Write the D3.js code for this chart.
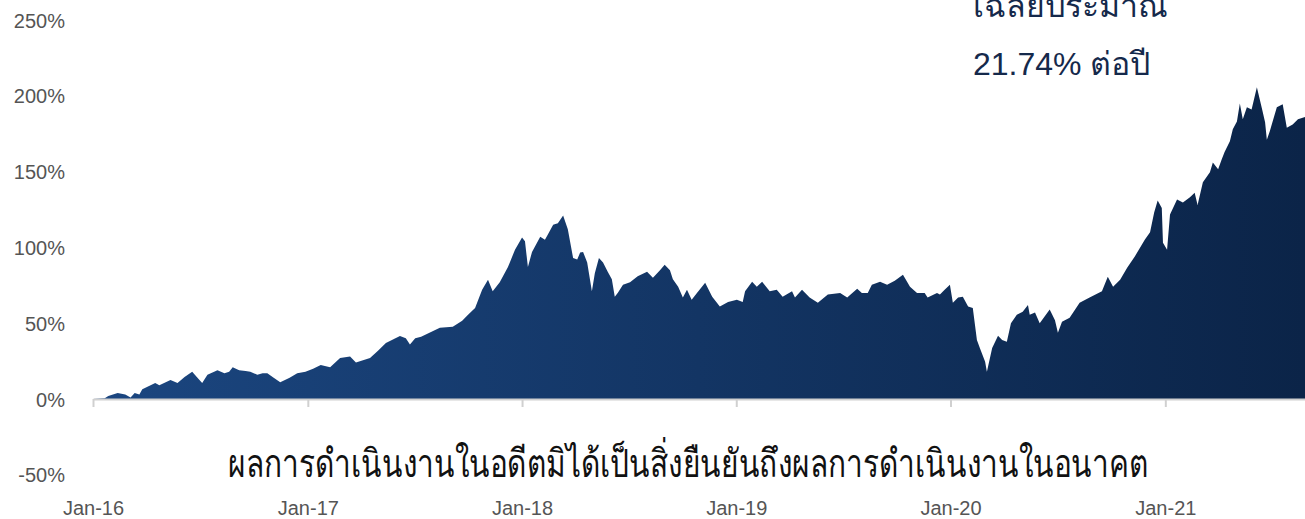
<!DOCTYPE html>
<head>
  <meta charset="utf-8">
  <style>
    body { margin: 0; background: #fff; }
    .ylab text, .xlab text {
      font-family: "Liberation Sans", Arial, sans-serif;
      font-size: 20px;
      fill: #555;
    }
    .note {
      font-family: "Liberation Sans", Arial, sans-serif;
      font-size: 32px;
      fill: #15294b;
    }
    .disclaimer {
      font-family: "Liberation Sans", "Noto Sans", sans-serif;
      font-size: 39px;
      fill: #111;
    }
  </style>
  <script src="https://d3js.org/d3.v7.min.js"></script>
</head>

<body>
  <div id="content"></div>
  <script>
  // cumulative return (%)
  var dates = ["2016-01-01","2016-01-21","2016-01-27","2016-02-12","2016-02-25","2016-03-05","2016-03-12","2016-03-20","2016-03-25",
    "2016-04-16","2016-04-23","2016-05-12","2016-05-24","2016-06-05","2016-06-18","2016-06-27","2016-07-05","2016-07-14","2016-07-31",
    "2016-08-12","2016-08-20","2016-08-26","2016-09-06","2016-09-17","2016-09-25","2016-10-07","2016-10-16","2016-10-24","2016-11-02",
    "2016-11-15","2016-12-01","2016-12-14","2016-12-28","2017-01-10","2017-01-23","2017-02-08","2017-02-25","2017-03-14","2017-03-24",
    "2017-04-17","2017-05-01","2017-05-14","2017-06-07","2017-06-17","2017-06-24","2017-07-03","2017-07-13","2017-08-14","2017-09-05",
    "2017-09-21","2017-10-01","2017-10-13","2017-10-25","2017-11-04","2017-11-12","2017-11-24","2017-12-08","2017-12-20","2018-01-01",
    "2018-01-06","2018-01-11","2018-01-18","2018-02-01","2018-02-09","2018-02-14","2018-02-23","2018-03-03","2018-03-12","2018-03-20",
    "2018-03-29","2018-04-05","2018-04-10","2018-04-15","2018-04-22","2018-04-30","2018-05-05","2018-05-12","2018-05-19","2018-05-27",
    "2018-06-03","2018-06-08","2018-06-13","2018-06-22","2018-07-04","2018-07-17","2018-08-02","2018-08-12","2018-08-24","2018-09-01",
    "2018-09-10","2018-09-15","2018-09-24","2018-10-02","2018-10-09","2018-10-17","2018-10-26","2018-11-09","2018-11-21","2018-12-04",
    "2018-12-18","2019-01-02","2019-01-12","2019-01-16","2019-01-28","2019-02-05","2019-02-14","2019-02-27","2019-03-11","2019-03-21",
    "2019-04-06","2019-04-11","2019-04-23","2019-05-06","2019-05-20","2019-06-06","2019-06-27","2019-07-09","2019-07-26","2019-08-03",
    "2019-08-13","2019-08-20","2019-09-03","2019-09-15","2019-09-28","2019-10-12","2019-10-24","2019-11-05","2019-11-18","2019-11-23",
    "2019-12-09","2019-12-14","2019-12-22","2019-12-31","2020-01-05","2020-01-14","2020-01-22","2020-01-31","2020-02-08","2020-02-15",
    "2020-02-20","2020-02-29","2020-03-03","2020-03-12","2020-03-22","2020-03-29","2020-04-06","2020-04-13","2020-04-23","2020-05-03",
    "2020-05-12","2020-05-15","2020-05-24","2020-06-01","2020-06-18","2020-06-27","2020-07-02","2020-07-09","2020-07-22","2020-08-08",
    "2020-08-25","2020-09-15","2020-09-25","2020-10-04","2020-10-16","2020-10-28","2020-11-10","2020-11-27","2020-12-06","2020-12-13",
    "2020-12-19","2020-12-26","2020-12-28","2021-01-04","2021-01-09","2021-01-21","2021-01-31","2021-02-12","2021-02-20","2021-02-25",
    "2021-03-06","2021-03-18","2021-03-23","2021-04-01","2021-04-07","2021-04-12","2021-04-21","2021-04-26","2021-05-03","2021-05-08",
    "2021-05-13","2021-05-20","2021-05-28","2021-06-06","2021-06-15","2021-06-20","2021-06-23","2021-06-28","2021-07-10","2021-07-20",
    "2021-07-27","2021-08-06","2021-08-15","2021-08-27"];
  var returns = [0,0.5,2,4,3,1,4,3,6.5,
    10.5,9,12.5,10.5,14.5,18,14,10.5,16,19,
    17,18,21,19,18.5,18,16,17,17,14.5,
    11,14,17,18,20,22.5,21,27,28,24,
    27,32,37,41.5,40,36,40,41,47,47.6,
    51.6,55.6,60,72,78.7,71,77,87,98.5,106.5,
    104,87,97,107,105,108.5,115,116,121,112,
    93,92,96.6,97,90,71,83,93,90,84,
    79,67.5,70,75.4,77,81,84,80,85,88.6,
    85,79,74,67,72,65.5,70,76.7,67.5,61,
    64,65.5,64,71,77.4,74,77.4,71,72,67.5,
    71,67,72,67,63.5,69,70,67,72.8,70,
    70,75.4,77.4,75.4,78,82,74,70,70,67,
    70,69,72,75.4,63.5,67,67.5,61,60,39,
    33.7,24.5,18,33.7,41.7,39,37.7,50,55.6,57.5,
    62,55.6,57,50,59,52,43.7,51,53.6,63.5,
    67,71,80.7,74,78.7,86.6,94,105,110,123,
    131,126,103,98.5,121.7,131.6,129.6,133,136,128,
    143,149.5,156,151.5,158,163,170,178,183,195,
    184.5,192.5,191,205.7,191,182.6,171,176.6,192.5,194.5,
    179,181,184.5,186];

  var yTicks = [-50, 0, 50, 100, 150, 200, 250];
  var xTickDates = ["2016-01-01","2017-01-01","2018-01-01","2019-01-01","2020-01-01","2021-01-01"];
  var xTickLabels = ["Jan-16","Jan-17","Jan-18","Jan-19","Jan-20","Jan-21"];
  var noteLines = ["เฉลี่ยประมาณ", "21.74% ต่อปี"];
  var disclaimer = "ผลการดำเนินงานในอดีตมิได้เป็นสิ่งยืนยันถึงผลการดำเนินงานในอนาคต";

  var W = 1305, H = 519;
  var parse = d3.timeParse("%Y-%m-%d");
  var data = dates.map(function(d, i) { return {date: parse(d), v: returns[i]}; });

  var x = d3.scaleTime()
      .domain([parse(dates[0]), parse(dates[dates.length - 1])])
      .range([93, 1305]);
  var y = d3.scaleLinear()
      .domain([0, 250])
      .range([399, 20]);

  var svg = d3.select("#content").append("svg")
      .attr("width", W)
      .attr("height", H);

  var grad = svg.append("defs").append("linearGradient")
      .attr("id", "fillGrad")
      .attr("gradientUnits", "userSpaceOnUse")
      .attr("x1", x.range()[0]).attr("x2", x.range()[1])
      .attr("y1", 0).attr("y2", 0);
  grad.append("stop").attr("offset", "0%").attr("stop-color", "#1b4680");
  grad.append("stop").attr("offset", "100%").attr("stop-color", "#0b2448");

  // y labels only, no gridlines
  var yl = svg.append("g")
      .attr("class", "ylab")
      .attr("transform", "translate(65,0)")
      .call(d3.axisLeft(y).tickValues(yTicks).tickSize(0).tickPadding(0)
              .tickFormat(function(d) { return d + "%"; }));
  yl.select(".domain").remove();
  yl.selectAll("text").attr("dy", "0.35em");

  // area
  var area = d3.area()
      .x(function(d) { return x(d.date); })
      .y0(y(0))
      .y1(function(d) { return y(d.v); });

  svg.append("path")
      .datum(data)
      .attr("fill", "url(#fillGrad)")
      .attr("d", area);

  // axis line at 0% with year ticks
  var xa = svg.append("g")
      .attr("transform", "translate(0," + y(0) + ")")
      .call(d3.axisBottom(x).tickValues(xTickDates.map(parse)).tickSize(8).tickSizeOuter(0)
              .tickFormat(""));
  xa.select(".domain").attr("stroke", "#d0d0d0").attr("stroke-width", 2);
  xa.selectAll(".tick line").attr("stroke", "#d0d0d0").attr("stroke-width", 2);

  // year labels along the bottom
  var xl = svg.append("g")
      .attr("class", "xlab")
      .attr("transform", "translate(0,508)")
      .call(d3.axisBottom(x).tickValues(xTickDates.map(parse)).tickSize(0).tickPadding(0)
              .tickFormat(function(d, i) { return xTickLabels[i]; }));
  xl.select(".domain").remove();
  xl.selectAll("text").attr("dy", "0.35em").attr("y", 0);

  // annotation
  svg.selectAll(".note")
      .data(noteLines)
    .enter().append("text")
      .attr("class", "note")
      .attr("x", 973)
      .attr("y", function(d, i) { return 17 + i * 58; })
      .text(function(d) { return d; });

  svg.append("text")
      .attr("class", "disclaimer")
      .attr("x", 228)
      .attr("y", 477)
      .attr("textLength", 920)
      .attr("lengthAdjust", "spacingAndGlyphs")
      .text(disclaimer);
  </script>
</body>
</html>
